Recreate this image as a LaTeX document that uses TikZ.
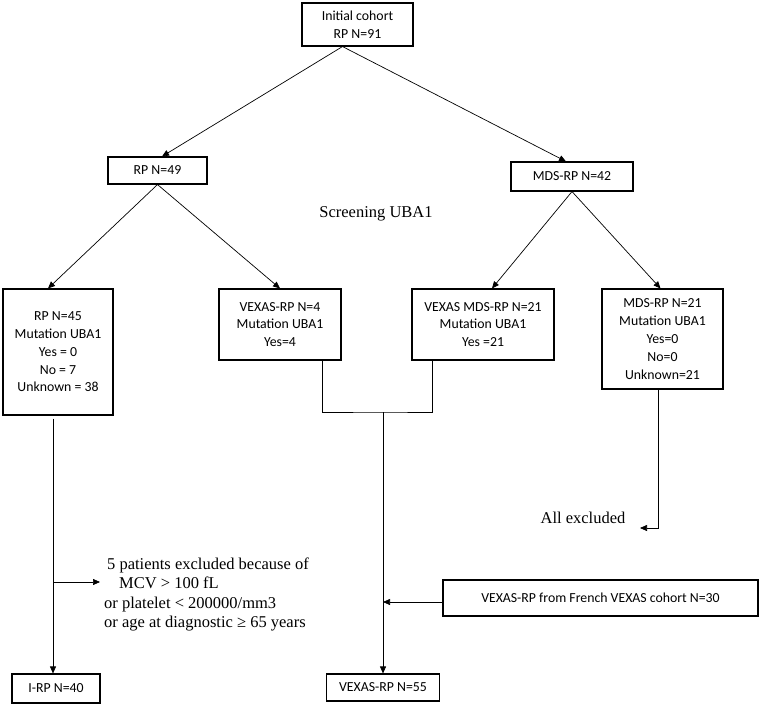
\documentclass[tikz,border=0pt]{standalone}
\usepackage{fontspec}
\setmainfont{Liberation Serif}
\newfontfamily\boxfont{Carlito}
\usetikzlibrary{arrows.meta,calc}
\tikzset{
  box/.style = {draw=black, line width=1.1pt, rectangle, align=center, inner sep=0pt,
    font=\boxfont\fontsize{13.8}{17.8}\selectfont},
  note/.style = {inner sep=0pt, font=\fontsize{16.5}{19.3}\selectfont},
  arr/.style = {-{Triangle[length=7pt,width=6pt]}},
  link/.style = {draw=black, line width=0.7pt},
}
\begin{document}
\begin{tikzpicture}[x=1pt,y=-1pt]
\useasboundingbox (0,0) rectangle (762,707);
% boxes
\node [box, minimum width=111, minimum height=43] (init) at (357.5,24.5) {Initial cohort\\RP N=91};
\node [box, minimum width=99, minimum height=27] (rp49) at (157.5,170.5) {RP N=49};
\node [box, minimum width=122, minimum height=29] (mds42) at (572,176.5) {MDS-RP N=42};
\node [box, minimum width=110, minimum height=126] (rp45) at (58,352) {RP N=45\\Mutation UBA1\\Yes = 0\\No = 7\\Unknown = 38};
\node [box, minimum width=122, minimum height=71] (vexasrp) at (280,324.5) {VEXAS-RP N=4\\Mutation UBA1\\Yes=4};
\node [box, minimum width=142, minimum height=71] (vexasmds) at (483,324.5) {VEXAS MDS-RP N=21\\Mutation UBA1\\Yes =21};
\node [box, minimum width=121, minimum height=100] (mds21) at (662.5,339) {MDS-RP N=21\\Mutation UBA1\\Yes=0\\No=0\\Unknown=21};
\node [box, minimum width=315, minimum height=36] (french) at (600.5,598) {VEXAS-RP from French VEXAS cohort N=30};
\node [box, minimum width=88, minimum height=29] (irp) at (56,688.5) {I-RP N=40};
\node [box, minimum width=113, minimum height=27] (vexasfinal) at (383,687.5) {VEXAS-RP N=55};
% free texts
\node [note] (screen) at (376,214) {Screening UBA1};
\node [note] (allexcl) at (583,518) {All excluded};
\node [note, anchor=west, align=left] (excl) at (104,594.5) {\hspace{3pt}5 patients excluded because of\\\hspace{15pt}MCV > 100 fL\\or platelet < 200000/mm3\\or age at diagnostic ≥ 65 years};
% connector points
\coordinate (initfoot) at ($(init.south)+(-15,0)$);
\coordinate (rpfoot) at ($(rp45.south)+(-5,3)$);
\coordinate (exclturn) at (53,582);
\coordinate (exclend) at (100,582);
\coordinate (vexasjoin) at (383,412);
\coordinate (frenchend) at (383,602);
\coordinate (mdsturn) at (658,528);
\coordinate (mdsend) at (640,528);
% arrows
\draw [link, arr] (initfoot) -- ($(rp49.north)+(4.5,0)$);
\draw [link, arr] (initfoot) -- ($(mds42.north)+(-6,0)$);
\draw [link, arr] (rp49.south) -- ($(rp45.north)+(-10,0)$);
\draw [link, arr] (rp49.south) -- (vexasrp.north);
\draw [link, arr] (mds42.south) -- ($(vexasmds.north)+(9,0)$);
\draw [link, arr] (mds42.south) -- ($(mds21.north)+(-2,0)$);
\draw [link, arr] (rpfoot) -- ($(irp.north)+(-3,0)$);
\draw [link, arr] (exclturn) -- (exclend);
\draw [link] ($(vexasrp.south)+(42,0)$) |- (vexasjoin) -| ($(vexasmds.south)+(-51,0)$);
\draw [link, arr] (vexasjoin) -- (vexasfinal.north);
\draw [link, arr] (french.west |- frenchend) -- (frenchend);
\draw [link, arr] ($(mds21.south)+(-4.5,0)$) |- (mdsend);
\end{tikzpicture}
\end{document}
